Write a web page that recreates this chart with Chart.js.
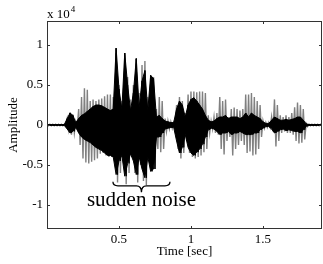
<!DOCTYPE html>
<html><head><meta charset="utf-8">
<script src="https://cdn.jsdelivr.net/npm/chart.js@4.4.1/dist/chart.umd.min.js"></script>
<style>html,body{margin:0;padding:0;background:#fff;}</style>
</head><body>
<canvas id="c" width="323" height="264"></canvas>
<script>
// sample spacing of the envelope readings (seconds)
const step = 0.02;
const xTicks = [0.5, 1, 1.5];
const yTicks = [-1, -0.5, 0, 0.5, 1];
const xRange = [0, 1.91];
const yRange = [-1.3, 1.3];

// envelope readings (x 10^4), one per 0.02 s, starting at t = 0
const grayUp = [0.01,0.01,0.01,0.01,0.01,0.01,0.01,0.08,0.16,0.13,0.04,
  0.2,0.35,0.46,0.44,0.3,0.32,0.3,0.32,0.33,0.36,0.38,0.38,0.35,
  0.9,0.5,0.3,0.88,0.6,0.32,0.5,0.83,0.4,0.75,0.8,0.35,0.62,0.6,0.2,0.35,0.3,0.08,0.05,0.04,0.03,
  0.25,0.35,0.3,0.15,0.38,0.42,0.42,0.41,0.42,0.42,0.4,0.12,0.05,0.1,0.15,0.35,0.3,0.32,0.1,
  0.2,0.22,0.2,0.18,0.2,0.38,0.38,0.4,0.35,0.3,0.25,0.05,0.03,0.03,0.1,0.32,0.25,0.12,0.1,
  0.12,0.1,0.15,0.22,0.28,0.25,0.2,0.02,0.01,0.01,0.01,0.01,0.01];
const grayLow = [-0.01,-0.01,-0.01,-0.01,-0.01,-0.01,-0.01,-0.05,-0.12,-0.1,-0.03,
  -0.25,-0.42,-0.47,-0.48,-0.46,-0.44,-0.42,-0.36,-0.35,-0.38,-0.4,-0.4,-0.42,
  -0.72,-0.6,-0.45,-0.74,-0.6,-0.4,-0.6,-0.72,-0.5,-0.7,-0.75,-0.45,-0.55,-0.55,-0.3,-0.34,-0.3,-0.08,-0.05,-0.04,-0.03,
  -0.3,-0.42,-0.35,-0.2,-0.35,-0.4,-0.42,-0.4,-0.38,-0.34,-0.3,-0.1,-0.05,-0.1,-0.12,-0.3,-0.37,-0.2,-0.15,
  -0.38,-0.3,-0.25,-0.2,-0.25,-0.35,-0.33,-0.38,-0.37,-0.3,-0.15,-0.04,-0.03,-0.03,-0.08,-0.27,-0.2,-0.1,-0.08,
  -0.1,-0.1,-0.12,-0.2,-0.23,-0.22,-0.18,-0.02,-0.01,-0.01,-0.01,-0.01,-0.01];
const blackUp = [0.005,0.005,0.005,0.005,0.005,0.005,0.005,0.08,0.15,0.12,0.03,
  0.08,0.12,0.14,0.17,0.2,0.23,0.25,0.25,0.24,0.22,0.2,0.18,0.2,
  0.96,0.45,0.2,0.9,0.5,0.18,0.4,0.83,0.22,0.55,0.68,0.18,0.62,0.58,0.1,0.12,0.08,0.05,0.04,0.03,0.03,
  0.2,0.3,0.25,0.1,0.25,0.32,0.34,0.3,0.25,0.2,0.12,0.06,0.04,0.05,0.08,0.1,0.1,0.12,0.08,
  0.1,0.1,0.1,0.08,0.1,0.15,0.1,0.15,0.12,0.1,0.08,0.04,0.02,0.02,0.06,0.1,0.08,0.06,0.06,
  0.07,0.06,0.07,0.08,0.1,0.1,0.06,0.015,0.005,0.005,0.005,0.005,0.005];
const blackLow = [-0.005,-0.005,-0.005,-0.005,-0.005,-0.005,-0.005,-0.05,-0.1,-0.08,-0.03,
  -0.1,-0.15,-0.18,-0.2,-0.22,-0.25,-0.28,-0.3,-0.32,-0.35,-0.38,-0.38,-0.4,
  -0.62,-0.45,-0.38,-0.64,-0.48,-0.36,-0.45,-0.62,-0.4,-0.55,-0.66,-0.4,-0.58,-0.55,-0.15,-0.15,-0.1,-0.05,-0.04,-0.03,-0.03,
  -0.2,-0.35,-0.28,-0.12,-0.28,-0.35,-0.38,-0.34,-0.3,-0.24,-0.15,-0.06,-0.04,-0.05,-0.08,-0.12,-0.1,-0.1,-0.08,
  -0.12,-0.1,-0.1,-0.08,-0.1,-0.12,-0.12,-0.12,-0.1,-0.1,-0.06,-0.04,-0.02,-0.02,-0.05,-0.1,-0.08,-0.06,-0.05,
  -0.07,-0.06,-0.07,-0.08,-0.08,-0.1,-0.06,-0.015,-0.005,-0.005,-0.005,-0.005,-0.005];

const noteText = 'sudden noise';
const noteSpan = [0.458, 0.854];

function zigzag(up, low) {
  const pts = [];
  for (let k = 0; k < up.length; k++) {
    const t = k * step;
    pts.push({x: t, y: up[k]});
    pts.push({x: t + step / 2, y: low[k]});
  }
  return pts;
}
function series(vals) {
  return vals.map((v, k) => ({x: k * step, y: v}));
}

const serif = "'Liberation Serif', serif";
const GRAY = '#808080';

const framePlugin = {
  id: 'frame',
  afterDraw(chart) {
    const {ctx, chartArea: a, scales: {x, y}} = chart;
    ctx.save();
    ctx.strokeStyle = '#333';
    ctx.lineWidth = 1;
    ctx.strokeRect(Math.round(a.left) + 0.5, Math.round(a.top) + 0.5,
      Math.round(a.right - a.left) - 1, Math.round(a.bottom - a.top) - 1);
    const tl = 3;
    ctx.beginPath();
    xTicks.forEach(v => {
      const px = Math.round(x.getPixelForValue(v)) + 0.5;
      ctx.moveTo(px, a.bottom); ctx.lineTo(px, a.bottom - tl);
      ctx.moveTo(px, a.top); ctx.lineTo(px, a.top + tl);
    });
    yTicks.forEach(v => {
      const py = Math.round(y.getPixelForValue(v)) + 0.5;
      ctx.moveTo(a.left, py); ctx.lineTo(a.left + tl, py);
      ctx.moveTo(a.right, py); ctx.lineTo(a.right - tl, py);
    });
    ctx.stroke();

    // exponent label
    ctx.fillStyle = '#000';
    ctx.font = '13px ' + serif;
    ctx.textBaseline = 'alphabetic';
    ctx.textAlign = 'left';
    ctx.fillText('x 10', a.left, a.top - 3);
    const w = ctx.measureText('x 10').width;
    ctx.font = '9px ' + serif;
    ctx.fillText('4', a.left + w + 1, a.top - 9);

    // brace annotation
    const xL = x.getPixelForValue(noteSpan[0]);
    const xR = x.getPixelForValue(noteSpan[1]);
    const xM = (xL + xR) / 2;
    const yTop = y.getPixelForValue(-0.71);
    const yMid = y.getPixelForValue(-0.76);
    const yTip = y.getPixelForValue(-0.84);
    ctx.strokeStyle = '#000';
    ctx.lineWidth = 1.3;
    ctx.beginPath();
    ctx.moveTo(xL, yTop);
    ctx.quadraticCurveTo(xL, yMid, xL + 5, yMid);
    ctx.lineTo(xM - 5, yMid);
    ctx.quadraticCurveTo(xM, yMid, xM, yTip);
    ctx.quadraticCurveTo(xM, yMid, xM + 5, yMid);
    ctx.lineTo(xR - 5, yMid);
    ctx.quadraticCurveTo(xR, yMid, xR, yTop);
    ctx.stroke();
    ctx.font = '21px ' + serif;
    ctx.textAlign = 'center';
    ctx.fillText(noteText, xM, y.getPixelForValue(-1.01));
    ctx.restore();
  }
};

const tickFont = {family: serif, size: 13};
const lineBase = {showLine: true, pointRadius: 0, tension: 0, borderWidth: 1};

new Chart(document.getElementById('c'), {
  type: 'scatter',
  data: {
    datasets: [
      Object.assign({data: zigzag(blackUp, blackLow), borderColor: '#000', order: 1}, lineBase),
      Object.assign({data: series(blackUp), borderColor: '#000', backgroundColor: '#000', fill: 2, order: 2}, lineBase),
      Object.assign({data: series(blackLow), borderColor: '#000', order: 2}, lineBase),
      Object.assign({data: zigzag(grayUp, grayLow), borderColor: GRAY, order: 3}, lineBase, {borderWidth: 1.4})
    ]
  },
  options: {
    responsive: false,
    animation: false,
    devicePixelRatio: 1,
    events: [],
    layout: {padding: {left: 0, right: 1, top: 21, bottom: 0}},
    plugins: {legend: {display: false}, tooltip: {enabled: false}},
    scales: {
      x: {
        type: 'linear', min: xRange[0], max: xRange[1],
        afterBuildTicks: s => { s.ticks = xTicks.map(v => ({value: v})); },
        afterFit: s => { s.height = 35; },
        grid: {display: false, drawTicks: false},
        border: {display: false},
        ticks: {font: tickFont, color: '#000', padding: 3, maxRotation: 0, autoSkip: false, callback: v => String(v)},
        title: {display: true, text: 'Time [sec]', font: tickFont, color: '#000', padding: {top: 0, bottom: 5}}
      },
      y: {
        type: 'linear', min: yRange[0], max: yRange[1],
        afterBuildTicks: s => { s.ticks = yTicks.map(v => ({value: v})); },
        afterFit: s => { s.width = 47; },
        grid: {display: false, drawTicks: false},
        border: {display: false},
        ticks: {font: tickFont, color: '#000', padding: 4, autoSkip: false, callback: v => String(v)},
        title: {display: true, text: 'Amplitude', font: tickFont, color: '#000', padding: {top: 6, bottom: 0}}
      }
    }
  },
  plugins: [framePlugin]
});
</script>
</body></html>
